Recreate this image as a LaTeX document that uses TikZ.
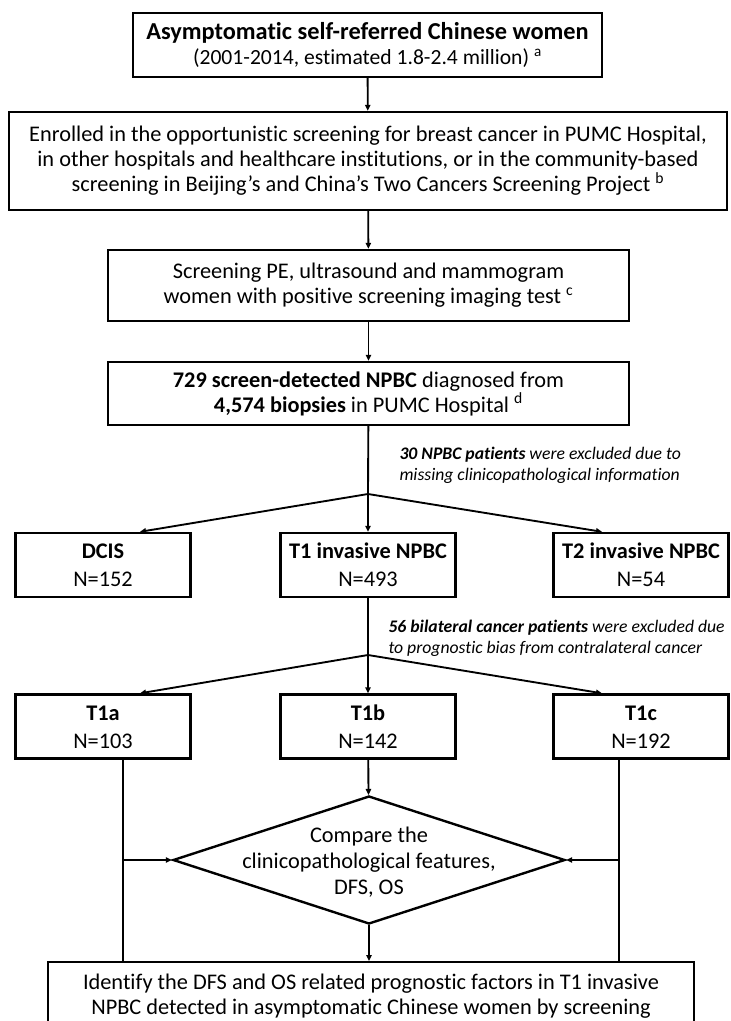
\documentclass[tikz,border=0pt]{standalone}
\usepackage{fontspec}
\setmainfont{Carlito}[Ligatures=NoCommon]
\usetikzlibrary{shapes.geometric,arrows.meta,calc}

\tikzset{every picture/.style={line width=0.75pt}}
\tikzset{
  stagebox/.style={draw, line width=1.8pt, align=center, inner sep=0pt, font=\fontsize{16.75}{18.75}\selectfont},
  groupbox/.style={stagebox, minimum width=131pt, minimum height=48pt, font=\fontsize{16.75}{21}\selectfont},
  decision/.style={draw, diamond, line width=1.8pt, inner sep=0pt, minimum width=294pt, minimum height=96pt},
  note/.style={align=left, anchor=west, inner sep=0pt, font=\fontsize{13.25}{15.5}\selectfont\itshape},
  flow/.style={line width=1.4pt, -{Triangle[length=4.5pt,width=4pt]}},
  link/.style={line width=1.4pt},
}
\newcommand{\grouptext}[2]{\vphantom{Tb}\textbf{#1}\\#2}

\begin{document}
\begin{tikzpicture}[x=0.75pt,y=0.75pt,yscale=-1,xscale=1]
%set diagram left start at 0, and has height of 1021
\path[use as bounding box] (0,0) rectangle (731,1021);

%Shape: Rectangle
\node[stagebox, minimum width=351.75pt, minimum height=48pt] (pop) at (367.5,45)
  {{\fontsize{18.25}{18.5}\selectfont\bfseries Asymptomatic self-referred Chinese women}\\
   {\fontsize{16.2}{17}\selectfont(2001-2014, estimated 1.8-2.4 million) \textsuperscript{a}}};
%Shape: Rectangle
\node[stagebox, minimum width=538.5pt, minimum height=73.5pt] (enrol) at (368,161)
  {Enrolled in the opportunistic screening for breast cancer in PUMC Hospital,\\in other hospitals and healthcare institutions, or in the community-based\\screening in Beijing’s and China’s Two Cancers Screening Project \textsuperscript{b}};
%Shape: Rectangle
\node[stagebox, minimum width=390.75pt, minimum height=53.25pt] (scr) at (368.5,285.5)
  {Screening PE, ultrasound and mammogram\\women with positive screening imaging test \textsuperscript{c}};
%Shape: Rectangle
\node[stagebox, minimum width=390.75pt, minimum height=47.25pt] (npbc) at (368.5,393.5)
  {\textbf{729 screen-detected NPBC} diagnosed from\\\textbf{4,574 biopsies} in PUMC Hospital \textsuperscript{d}};

%Shape: Rectangle
\node[groupbox] (dcis) at (103,565) {\grouptext{DCIS}{N=152}};
\node[groupbox] (tone) at (368,565) {\grouptext{T1 invasive NPBC}{N=493}};
\node[groupbox] (ttwo) at (641,565) {\grouptext{T2 invasive NPBC}{N=54}};
%Shape: Rectangle
\node[groupbox] (t1a) at (103,726.5) {\grouptext{T1a}{N=103}};
\node[groupbox] (t1b) at (368,726.5) {\grouptext{T1b}{N=142}};
\node[groupbox] (t1c) at (641,726.5) {\grouptext{T1c}{N=192}};

%Shape: Diamond
\node[decision] (dia) at (369,860) {};
% Text Node
\node[align=center, inner sep=0pt, font=\fontsize{16.75}{19.5}\selectfont] (cmp) at (369,862)
  {Compare the\\clinicopathological features,\\DFS, OS};
%Shape: Rectangle
\node[stagebox, anchor=north, minimum width=484.5pt, minimum height=50.25pt] (fin) at (371,961)
  {Identify the DFS and OS related prognostic factors in T1 invasive\\NPBC detected in asymptomatic Chinese women by screening};

% Text Node
\node[note] (excl1) at (399,465)
  {\textbf{30 NPBC patients} were excluded due to\\missing clinicopathological information};
% Text Node
\node[note] (excl2) at (388,638.5)
  {\textbf{56 bilateral cancer patients} were excluded due\\to prognostic bias from contralateral cancer};

\coordinate (j1) at (368,494);
\coordinate (j2) at (368,655);

%Straight Lines
\draw[flow] (pop) -- (enrol);
\draw[flow] (enrol) -- (scr);
\draw[flow] (scr) -- (npbc);
\draw[link] (npbc) -- (j1);
\draw[flow] (j1) -- ($(dcis.north)+(37,0)$);
\draw[flow] (j1) -- (tone);
\draw[flow] (j1) -- ($(ttwo.north)+(-39,0)$);
%Straight Lines
\draw[link] (tone) -- (j2);
\draw[flow] (j2) -- ($(t1a.north)+(37,0)$);
\draw[flow] (j2) -- (t1b);
\draw[flow] (j2) -- ($(t1c.north)+(-39,0)$);
%Straight Lines
\draw[flow] (t1b) -- (dia);
\draw[flow] (dia) -- (dia |- fin.north);
\draw[link] ($(t1a.south)+(20,0)$) coordinate (la) -- (la |- fin.north);
\draw[flow] (la |- dia.west) -- (dia.west);
\draw[link] ($(t1c.south)+(-22,0)$) coordinate (lc) -- (lc |- fin.north);
\draw[flow] (lc |- dia.east) -- (dia.east);

\end{tikzpicture}
\end{document}
